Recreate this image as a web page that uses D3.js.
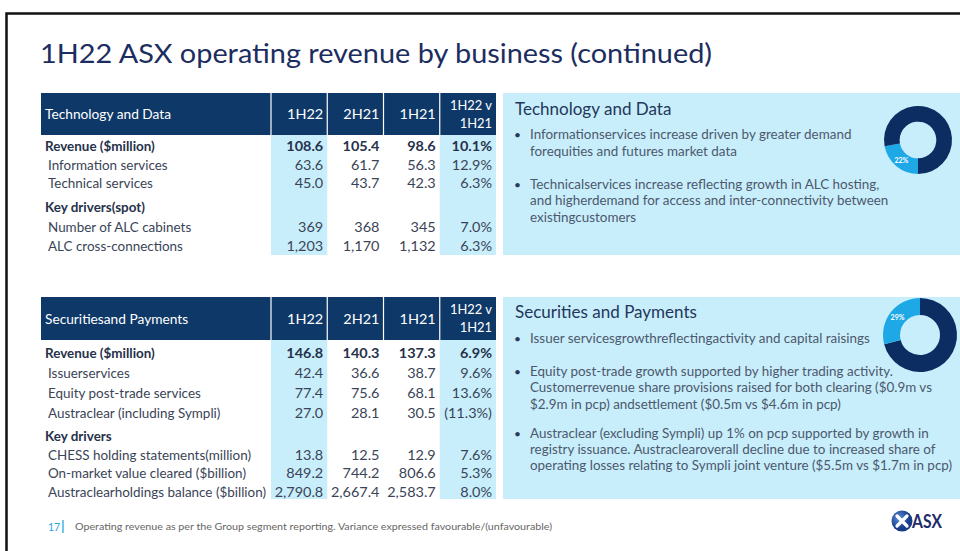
<!DOCTYPE html>
<html><head><meta charset="utf-8">
<script src="https://cdn.jsdelivr.net/npm/d3@7"></script>
<style>html,body{margin:0;padding:0;background:#fff;} svg{display:block;font-family:Lato,"Open Sans",sans-serif;}</style>
</head><body><svg id="c" width="960" height="551"></svg>
<script>
// ---------- data ----------
const title = "1H22 ASX operating revenue by business (continued)";
const periods = ["1H22", "2H21", "1H21"];
const varianceHeader = ["1H22 v", "1H21"];

const techHeader = "Technology and Data";
const techLabels = ["Revenue ($million)", "Information services", "Technical services", "Key drivers(spot)", "Number of ALC cabinets", "ALC cross-connections"];
const techKinds = ["total", "item", "item", "section", "item", "item"];
const techDecimals = [1, 1, 1, null, 0, 0];
const tech1H22 = [108.6, 63.6, 45.0, null, 369, 1203];
const tech2H21 = [105.4, 61.7, 43.7, null, 368, 1170];
const tech1H21 = [98.6, 56.3, 42.3, null, 345, 1132];
const techVariance = [10.1, 12.9, 6.3, null, 7.0, 6.3];

const secHeader = "Securitiesand Payments";
const secLabels = ["Revenue ($million)", "Issuerservices", "Equity post-trade services", "Austraclear (including Sympli)", "Key drivers", "CHESS holding statements(million)", "On-market value cleared ($billion)", "Austraclearholdings balance ($billion)"];
const secKinds = ["total", "item", "item", "item", "section", "item", "item", "item"];
const secDecimals = [1, 1, 1, 1, null, 1, 1, 1];
const sec1H22 = [146.8, 42.4, 77.4, 27.0, null, 13.8, 849.2, 2790.8];
const sec2H21 = [140.3, 36.6, 75.6, 28.1, null, 12.5, 744.2, 2667.4];
const sec1H21 = [137.3, 38.7, 68.1, 30.5, null, 12.9, 806.6, 2583.7];
const secVariance = [6.9, 9.6, 13.6, -11.3, null, 7.6, 5.3, 8.0];

const techPanelTitle = "Technology and Data";
const techBullets = [
  ["Informationservices increase driven by greater demand", "forequities and futures market data"],
  ["Technicalservices increase reflecting growth in ALC hosting,", "and higherdemand for access and inter-connectivity between", "existingcustomers"]
];
const secPanelTitle = "Securities and Payments";
const secBullets = [
  ["Issuer servicesgrowthreflectingactivity and capital raisings"],
  ["Equity post-trade growth supported by higher trading activity.", "Customerrevenue share provisions raised for both clearing ($0.9m vs", "$2.9m in pcp) andsettlement ($0.5m vs $4.6m in pcp)"],
  ["Austraclear (excluding Sympli) up 1% on pcp supported by growth in", "registry issuance. Austraclearoverall decline due to increased share of", "operating losses relating to Sympli joint venture ($5.5m vs $1.7m in pcp)"]
];
const techShare = [22, 78];   // % of ASX operating revenue: this business, rest
const secShare = [29, 71];

const pageNumber = "17";
const footnote = "Operating revenue as per the Group segment reporting. Variance expressed favourable/(unfavourable)";
const logoText = "ASX";

// ---------- styles ----------
const NAVY = "#0e3868", LIGHT = "#c8eefc", DARK = "#0b2d62", CYAN = "#1ea8e6";
const TXT = "#3a4456", TXTB = "#26314a", PTXT = "#4c586b";

const svg = d3.select("#c");
svg.append("rect").attr("width", 960).attr("height", 551).attr("fill", "#fff");
svg.append("path").attr("d", "M6.5,551V13.5H960").attr("fill", "none").attr("stroke", "#111").attr("stroke-width", 2.5);

const titleEl = svg.append("text").attr("x", 40).attr("y", 63).attr("font-size", 26.5)
  .attr("fill", "#1c2d5f").text(title);

const col = d3.scaleBand().domain(d3.range(4)).range([271, 496]);
const fmtVal = (v, dec) => d3.format(dec === 0 ? ",d" : ",.1f")(v);
const fmtVar = v => v < 0 ? `(${d3.format(".1f")(-v)}%)` : `${d3.format(".1f")(v)}%`;

function drawTable(cfg) {
  const g = svg.append("g");
  const bodyTop = cfg.top + cfg.headH;
  [0, 3].forEach(c => g.append("rect").attr("x", col(c)).attr("y", bodyTop)
    .attr("width", col.bandwidth()).attr("height", cfg.bottom - bodyTop).attr("fill", LIGHT));
  g.append("rect").attr("x", 41).attr("y", cfg.top).attr("width", 496 - 41).attr("height", cfg.headH).attr("fill", NAVY);
  col.domain().forEach(c => g.append("line").attr("x1", col(c)).attr("x2", col(c))
    .attr("y1", cfg.top).attr("y2", bodyTop).attr("stroke", "#fff").attr("stroke-width", 1.2));
  const hy = cfg.top + cfg.headH / 2 + 5;
  g.append("text").attr("class", "cond").attr("data-f", 0.95).attr("x", 45).attr("y", hy).attr("font-size", 14).attr("fill", "#fff").text(cfg.header);
  periods.forEach((p, i) => g.append("text").attr("class", "cond").attr("x", col(i) + col.bandwidth() - 4).attr("y", hy)
    .attr("text-anchor", "end").attr("font-size", 14).attr("fill", "#fff").text(p));
  varianceHeader.forEach((p, j) => g.append("text").attr("class", "cond").attr("x", col(3) + col.bandwidth() - 4)
    .attr("y", cfg.top + 17 + j * 18).attr("text-anchor", "end").attr("font-size", 12.5).attr("fill", "#fff").text(p));

  cfg.labels.forEach((lab, i) => {
    const y = cfg.y(i) + 5;
    const kind = cfg.kinds[i];
    const bold = kind !== "item";
    g.append("text").attr("class", "cond").attr("data-f", 0.93).attr("x", bold ? 45 : 48).attr("y", y).attr("font-size", 14)
      .attr("font-weight", bold ? 700 : 400).attr("fill", bold ? TXTB : TXT).text(lab);
    if (kind === "section") return;
    const vals = [cfg.a[i], cfg.b[i], cfg.c[i]].map(v => fmtVal(v, cfg.dec[i])).concat([fmtVar(cfg.v[i])]);
    vals.forEach((s, c) => g.append("text").attr("class", "cond").attr("x", col(c) + col.bandwidth() - 4).attr("y", y)
      .attr("text-anchor", "end").attr("font-size", 14).attr("font-weight", kind === "total" ? 700 : 400)
      .attr("fill", kind === "total" ? TXTB : TXT).text(s));
  });
}

drawTable({ header: techHeader, labels: techLabels, kinds: techKinds, dec: techDecimals,
  a: tech1H22, b: tech2H21, c: tech1H21, v: techVariance, top: 93, headH: 42, bottom: 255,
  y: d3.scaleLinear().domain([0, 2, 3, 5]).range([146, 183, 207, 246]) });
drawTable({ header: secHeader, labels: secLabels, kinds: secKinds, dec: secDecimals,
  a: sec1H22, b: sec2H21, c: sec1H21, v: secVariance, top: 297, headH: 43, bottom: 499,
  y: d3.scaleLinear().domain([0, 3, 4, 7]).range([353, 413, 436, 492]) });

// ---------- commentary panels ----------
let refLine = null;
function drawPanel(cfg) {
  const g = svg.append("g");
  g.append("rect").attr("x", 503).attr("y", cfg.top).attr("width", 960 - 503).attr("height", cfg.bottom - cfg.top).attr("fill", LIGHT);
  g.append("text").attr("class", "cond").attr("x", 515).attr("y", cfg.titleY).attr("font-size", 16.5).attr("fill", "#24365a").text(cfg.title);
  cfg.bullets.forEach((lines, b) => {
    g.append("text").attr("x", 514).attr("y", cfg.lineY[b][0]).attr("font-size", 12).attr("fill", "#2a3a58").text("•");
    lines.forEach((ln, k) => {
      const t = g.append("text").attr("class", "cond").attr("x", 530).attr("y", cfg.lineY[b][k]).attr("font-size", 13)
        .attr("fill", PTXT).text(ln);
      if (ln.startsWith("operating losses")) refLine = t;
    });
  });
  // donut
  const pie = d3.pie().sort(null).startAngle(cfg.start).endAngle(cfg.start + 2 * Math.PI);
  const arc = d3.arc().innerRadius(cfg.r * 0.54).outerRadius(cfg.r);
  const dg = g.append("g").attr("transform", `translate(${cfg.cx},${cfg.cy})`);
  const arcs = pie(cfg.share);
  dg.selectAll("path").data(arcs).join("path").attr("d", arc)
    .attr("fill", (d, i) => i === cfg.lightIndex ? CYAN : DARK);
  const lab = d3.arc().innerRadius(cfg.r * 0.77).outerRadius(cfg.r * 0.77);
  dg.append("text").attr("transform", `translate(${lab.centroid(arcs[cfg.lightIndex])})`).attr("dy", "0.35em")
    .attr("text-anchor", "middle").attr("font-size", 7).attr("font-weight", 700).attr("fill", "#fff")
    .text(cfg.share[cfg.lightIndex] + "%");
}
drawPanel({ top: 93, bottom: 255, title: techPanelTitle, titleY: 115, bullets: techBullets,
  lineY: [[139, 156], [189, 205, 222]], share: techShare, lightIndex: 0, start: Math.PI, cx: 918, cy: 140, r: 34 });
drawPanel({ top: 297, bottom: 499, title: secPanelTitle, titleY: 318, bullets: secBullets,
  lineY: [[343], [376, 392, 409], [438, 454, 470]], share: [secShare[1], secShare[0]], lightIndex: 1, start: 0, cx: 920, cy: 335, r: 37 });

// ---------- footer ----------
svg.append("text").attr("x", 48).attr("y", 531).attr("font-size", 10.5).attr("fill", "#2aa7df").text(pageNumber);
svg.append("line").attr("x1", 63).attr("x2", 63).attr("y1", 520).attr("y2", 533).attr("stroke", "#2aa7df").attr("stroke-width", 1.3);
svg.append("text").attr("x", 75).attr("y", 530).attr("font-size", 9).attr("fill", "#666")
  .attr("textLength", 477).attr("lengthAdjust", "spacingAndGlyphs").text(footnote);
const logo = svg.append("g").attr("transform", "translate(902,521)");
const grad = svg.append("defs").append("radialGradient").attr("id", "lg").attr("cx", "35%").attr("cy", "35%");
grad.append("stop").attr("offset", "0%").attr("stop-color", "#5d8fd8");
grad.append("stop").attr("offset", "100%").attr("stop-color", "#173c8a");
logo.append("circle").attr("r", 10.5).attr("fill", "url(#lg)");
logo.append("path").attr("d", "M-5,-5L5,5M5,-5L-5,5").attr("stroke", "#fff").attr("stroke-width", 3.2).attr("stroke-linecap", "round");
svg.append("text").attr("x", 912).attr("y", 528).attr("font-size", 18).attr("font-weight", 700).attr("fill", "#1e2c6b")
  .attr("textLength", 30).attr("lengthAdjust", "spacingAndGlyphs").text(logoText);

// ---------- condense to match the slide's narrow typeface ----------
titleEl.attr("textLength", 672).attr("lengthAdjust", "spacingAndGlyphs");
const k = 422 / refLine.node().getComputedTextLength();
svg.selectAll("text.cond").each(function () {
  const f = +(this.getAttribute("data-f") || 1);
  const L = this.getComputedTextLength();
  d3.select(this).attr("textLength", L * k * f).attr("lengthAdjust", "spacingAndGlyphs");
});
</script></body></html>
